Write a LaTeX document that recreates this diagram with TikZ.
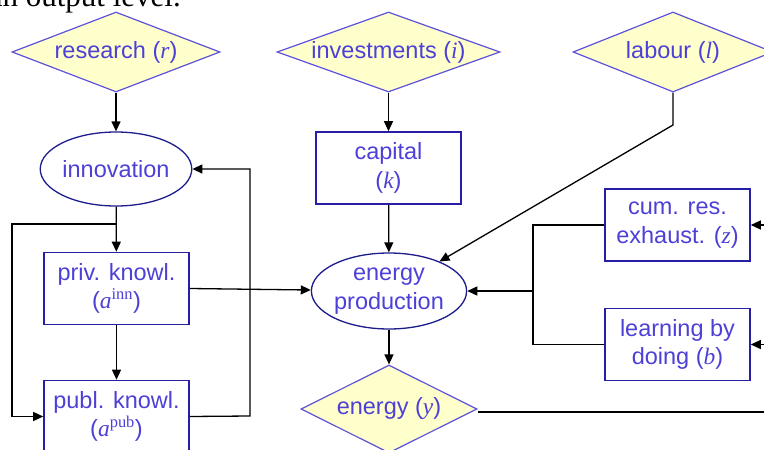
\documentclass[tikz,border=0pt]{standalone}
\usepackage{fontspec}
\setmainfont{Liberation Sans}
\newfontfamily\serifvar{Liberation Serif}
\usetikzlibrary{shapes.geometric,arrows.meta}

\definecolor{labelblue}{RGB}{77,64,214}
\definecolor{diamline}{RGB}{92,82,218}
\definecolor{diamfill}{RGB}{255,255,204}
\definecolor{boxline}{RGB}{40,30,165}
\definecolor{ovalline}{RGB}{28,28,140}

\newcommand{\mvar}[1]{{\serifvar\itshape #1}}
\newcommand{\msup}[1]{\textsuperscript{\serifvar #1}}
\newcommand{\labelfont}{\fontsize{23.5}{28.5}\selectfont}

\tikzset{
  diam/.style={diamond, draw=diamline, line width=1.2pt, fill=diamfill,
    inner xsep=-12pt, inner ysep=-4pt, shape aspect=2.6,
    minimum width=208, minimum height=80, text=labelblue, font=\labelfont},
  box/.style={rectangle, draw=boxline, line width=1.6pt, inner sep=0pt,
    minimum width=145, minimum height=72, align=center, text=labelblue, font=\labelfont},
  oval/.style={ellipse, draw=ovalline, line width=1.3pt, inner sep=0pt,
    minimum width=146, minimum height=74, align=center, text=labelblue, font=\labelfont},
  link/.style={line width=1.3pt, black},
  arr/.style={link, -{Triangle[length=10pt,width=9pt]}}
}

\begin{document}
\begin{tikzpicture}[x=1pt,y=1pt,yscale=-1,xscale=1]
\useasboundingbox (0,0) rectangle (764,450);
\clip (0,0) rectangle (764,450);

% Text cut at the top
\node[anchor=base east, inner sep=0pt, font=\serifvar\fontsize{31}{36}\selectfont] (toptext) at (181,6) {an output level.};

% Inputs
\node[diam] (research) at (116,52) {research (\mvar{r})};
\node[diam, minimum width=223] (invest) at (388.5,52) {investments (\mvar{i})};
\node[diam, minimum width=200] (labour) at (673,52) {labour (\mvar{l})};

% Knowledge side
\node[oval] (innov) at (116,169) {innovation};
\node[box] (priv) at (116.5,288.5) {priv. knowl.\\(\mvar{a}\msup{inn})};
\node[box] (publ) at (116.5,416.5) {publ. knowl.\\(\mvar{a}\msup{pub})};

% Production side
\node[box] (capital) at (388.5,168) {capital\\(\mvar{k})};
\node[oval, minimum height=76] (eprod) at (389,291) {energy\\production};
\node[diam, shape aspect=2, minimum width=176, minimum height=88] (energy) at (389,409) {energy (\mvar{y})};
\node[box] (cumres) at (677.5,225) {cum. res.\\exhaust. (\mvar{z})};
\node[box] (lbd) at (677.5,344.5) {learning by\\doing (\mvar{b})};

% Helper points
\coordinate (labbend) at (673,125);
\coordinate (innsplit) at (116,224);
\coordinate (leftrail) at (12,224);
\coordinate (feedrail) at (250,416);
\coordinate (joinrail) at (533,291);
\coordinate (cumin) at (775,225);
\coordinate (lbdin) at (775,344.5);
\coordinate (yout) at (775,412);

% Connectors
\draw[arr] (research) -- (innov);
\draw[arr] (invest) -- (capital);
\draw[arr] (labour.south) -- (labbend) -- (eprod);
\draw[arr] (innov) -- (priv);
\draw[arr] (innsplit) -- (leftrail) |- (publ.west);
\draw[arr] (priv) -- (publ);
\draw[arr] (publ.east) -- (feedrail) |- (innov.east);
\draw[arr] (priv.east) -- (eprod);
\draw[arr] (capital) -- (eprod);
\draw[arr] (eprod) -- (energy);
\draw[link] (cumres.west) -| (joinrail) |- (lbd.west);
\draw[arr] (joinrail) -- (eprod.east);
\draw[arr] (cumin) -- (cumres.east);
\draw[arr] (lbdin) -- (lbd.east);
\draw[link] (energy.east |- yout) -- (yout);

\end{tikzpicture}
\end{document}
